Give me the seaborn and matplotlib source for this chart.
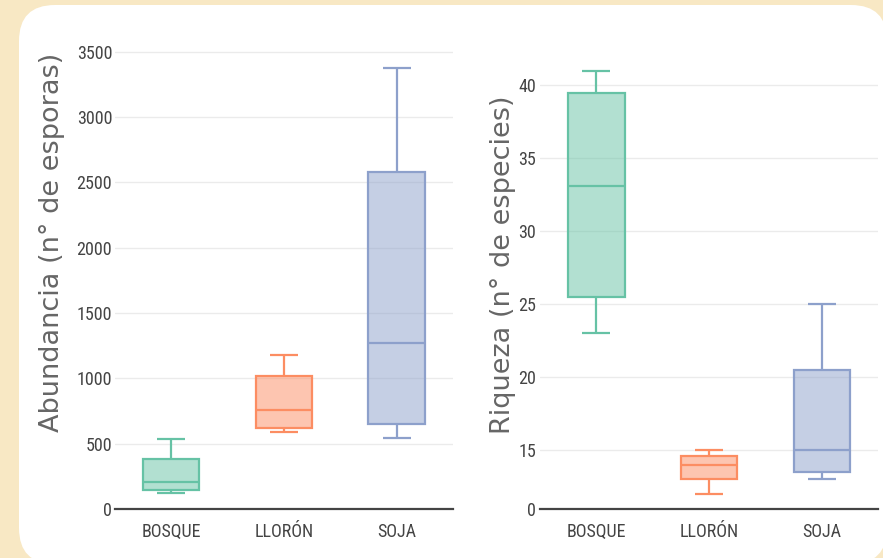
import numpy as np
import pandas as pd
import matplotlib
matplotlib.use("Agg")
import matplotlib.pyplot as plt
from matplotlib.patches import FancyBboxPatch
from matplotlib.colors import to_rgba
from matplotlib import font_manager
import seaborn as sns

# ---------------- data (five-number summaries) ----------------
categories = ["BOSQUE", "LLORÓN", "SOJA"]
# values per category: [min, Q1, median, Q3, max]
abund_bosque = [123, 145, 205, 383, 533]
abund_lloron = [588, 623, 760, 1020, 1181]
abund_soja = [547, 648, 1269, 2579, 3374]

riq_bosque = [23.0, 25.5, 33.1, 39.5, 41.0]
riq_lloron = [12.0, 13.0, 14.0, 14.55, 15.0]
riq_soja = [13.0, 13.5, 15.0, 20.5, 25.0]

abund_ticks = [0, 500, 1000, 1500, 2000, 2500, 3000, 3500]
riq_ticks = [15, 20, 25, 30, 35, 40]
riq_ticklabels = ["0", "15", "20", "25", "30", "35", "40"]

ylabel_left = "Abundancia (n° de esporas)"
ylabel_right = "Riqueza (n° de especies)"

palette = ["#66c2a5", "#fc8d62", "#8da0cb"]

# ---------------- data frames ----------------
df_abund = pd.DataFrame({
    "grupo": np.repeat(categories, 5),
    "valor": abund_bosque + abund_lloron + abund_soja,
})
df_riq = pd.DataFrame({
    "grupo": np.repeat(categories, 5),
    "valor": riq_bosque + riq_lloron + riq_soja,
})

# ---------------- fonts ----------------
sns.set_theme(style="white")
available = {f.name for f in font_manager.fontManager.ttflist}
tick_font = None
for cand in ["Roboto Condensed", "Liberation Sans Narrow", "Open Sans Condensed", "Liberation Sans"]:
    if cand in available:
        tick_font = cand
        break
if tick_font is None:
    tick_font = "DejaVu Sans"
plt.rcParams["font.family"] = ["DejaVu Sans"]

W, H = 883, 558
fig = plt.figure(figsize=(W / 100, H / 100), dpi=100)
fig.patch.set_facecolor("#f8e8c4")

# background panel
bg = fig.add_axes([0, 0, 1, 1], zorder=-10)
bg.set_xlim(0, W)
bg.set_ylim(0, H)
bg.axis("off")
bg.add_patch(FancyBboxPatch((19, -6), 868, H - 5 + 6, boxstyle="round,pad=0,rounding_size=36",
                            facecolor="white", edgecolor="none"))

def px_axes(x0, x1, ytop, ybot):
    return [x0 / W, (H - ybot) / H, (x1 - x0) / W, (ybot - ytop) / H]

ax1 = fig.add_axes(px_axes(115, 453, 40, 509))
ax2 = fig.add_axes(px_axes(540, 878, 40, 509))

def draw(ax, df):
    sns.boxplot(data=df, x="grupo", y="valor", hue="grupo", order=categories,
                hue_order=categories, palette=palette, width=0.5, whis=np.inf,
                linewidth=1.6, legend=False, ax=ax)
    for i, c in enumerate(ax.containers):
        col = palette[i]
        for b in c.boxes:
            b.set_facecolor(to_rgba(col, 0.5))
            b.set_edgecolor(col)
            b.set_linewidth(1.6)
        for ln in list(c.whiskers) + list(c.caps) + list(c.medians):
            ln.set_color(col)
            ln.set_linewidth(1.6)
            ln.set_solid_capstyle("butt")
    ax.set_facecolor("none")
    ax.set_xlim(-0.5, 2.5)
    ax.set_xlabel("")
    for s in ["top", "right", "left"]:
        ax.spines[s].set_visible(False)
    ax.spines["bottom"].set_color("#444444")
    ax.spines["bottom"].set_linewidth(1.6)
    ax.grid(axis="y", color="#ebebeb", linewidth=1)
    ax.set_axisbelow(True)
    ax.tick_params(axis="both", length=0, colors="#444444", labelsize=13)
    ax.tick_params(axis="y", pad=2)
    ax.tick_params(axis="x", pad=10)

draw(ax1, df_abund)
ax1.set_ylim(0, 3590)
ax1.set_yticks(abund_ticks)
ax1.set_yticklabels([str(v) for v in abund_ticks])
ax1.set_ylabel(ylabel_left, fontsize=19.5, color="#666666")
ax1.yaxis.set_label_coords(-0.148, 0.569)

draw(ax2, df_riq)
r_bottom = 10.95
ax2.set_ylim(r_bottom, 43.1)
ax2.set_yticks([r_bottom] + riq_ticks)
ax2.set_yticklabels(riq_ticklabels)
ax2.set_ylabel(ylabel_right, fontsize=19.5, color="#666666")
ax2.yaxis.set_label_coords(-0.072, 0.52)
ax2.tick_params(axis="y", pad=3)

for ax in (ax1, ax2):
    for t in ax.get_xticklabels() + ax.get_yticklabels():
        t.set_fontfamily(tick_font)

fig.savefig("out.png", dpi=100)
